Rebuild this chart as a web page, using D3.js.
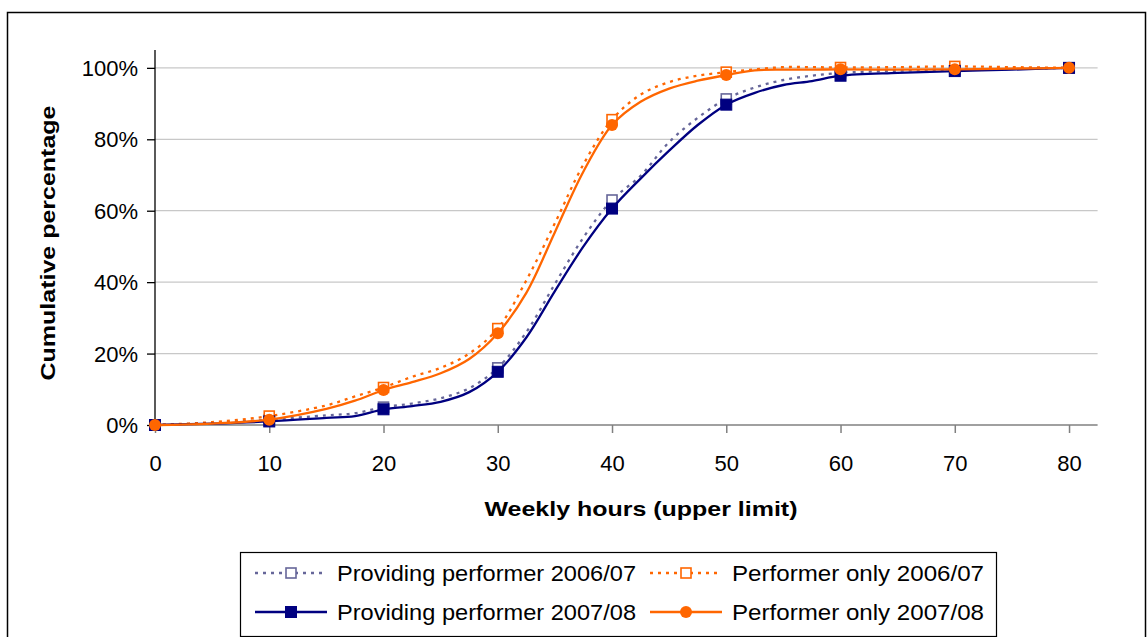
<!DOCTYPE html>
<html><head><meta charset="utf-8">
<script src="https://cdn.jsdelivr.net/npm/d3@7"></script>
<style>html,body{margin:0;padding:0;background:#fff;overflow:hidden}svg{display:block;font-family:"Liberation Sans",Arial,sans-serif}</style>
</head><body>
<svg id="c" width="1148" height="637"></svg>
<script>
const hours = [0,5,10,15,17.5,20,22.5,25,27.5,30,32.5,35,37.5,40,42.5,45,47.5,50,52.5,55,57.5,60,65,70,75,80];
const prov0607 = [0,0.6,1.5,2.7,3.3,5.0,6.0,7.5,10.3,16.0,26,39.5,52.5,63,69.8,79.2,86,91.3,94.5,96.6,97.8,98.6,99.2,99.5,99.7,100];
const perf0607 = [0,0.8,2.5,5.5,8,10.5,13.5,16,20,27,40.5,56.5,73,85.5,92.5,96,97.8,98.8,99.6,100.2,100.2,100.1,100.2,100.4,100.2,100];
const prov0708 = [0,0.4,1.0,2.0,2.5,4.4,5.3,6.5,9.2,14.9,24.5,37.5,50,60.6,69,76.8,84,89.7,93,95.2,96.3,97.8,98.6,99.1,99.5,100];
const perf0708 = [0,0.4,1.5,4.5,6.8,9.8,12,14.5,18.5,25.7,37,54,71,84,90.5,94.2,96.4,98,99.3,99.5,99.5,99.6,99.5,99.6,99.8,100];
const xTicks = [0,10,20,30,40,50,60,70,80];
const yTicks = [0,0.2,0.4,0.6,0.8,1.0];
const seriesNames = ["Providing performer 2006/07","Performer only 2006/07","Providing performer 2007/08","Performer only 2007/08"];

const series = [
  {name:seriesNames[0], vals:prov0607, color:"#666699", dash:"3,5", marker:"open", mcolor:"#666699"},
  {name:seriesNames[1], vals:perf0607, color:"#FF6600", dash:"3,5", marker:"open", mcolor:"#FF6600"},
  {name:seriesNames[2], vals:prov0708, color:"#000080", dash:null, marker:"square", mcolor:"#000080"},
  {name:seriesNames[3], vals:perf0708, color:"#FF6600", dash:null, marker:"circle", mcolor:"#FF6600"}
];
const legendWidths = [299,252,299,252];

const svg = d3.select("#c");
svg.append("rect").attr("x",7.5).attr("y",12.5).attr("width",1138).attr("height",640)
  .attr("fill","none").attr("stroke","#000").attr("stroke-width",1.5);

const x = d3.scaleLinear().domain([0,82.5]).range([155,1097.6]);
const y = d3.scaleLinear().domain([0,1.05]).range([425,50]);

svg.append("g").selectAll("line").data(yTicks.filter(d=>d>0)).join("line")
  .attr("x1",155).attr("x2",1097.6).attr("y1",d=>y(d)).attr("y2",d=>y(d))
  .attr("stroke","#C8C8C8").attr("stroke-width",1.2);

const yAxis = svg.append("g").attr("transform","translate(155,0)")
  .call(d3.axisLeft(y).tickValues(yTicks).tickFormat(d3.format(".0%")).tickSize(8).tickPadding(9));
yAxis.select(".domain").attr("d","M0,50V425").attr("stroke","#000").attr("stroke-width",1.3);
yAxis.selectAll(".tick line").attr("stroke","#000").attr("stroke-width",1.3);
yAxis.selectAll("text").attr("font-size",22).attr("fill","#000").attr("font-family","Liberation Sans, Arial, sans-serif").attr("dy","0.35em");

const xAxis = svg.append("g").attr("transform","translate(0,425)")
  .call(d3.axisBottom(x).tickValues(xTicks).tickFormat(d3.format("d")).tickSize(8).tickPadding(30));
xAxis.select(".domain").attr("d","M155,0H1097.6").attr("stroke","#808080").attr("stroke-width",1.5);
xAxis.selectAll(".tick line").attr("stroke","#808080").attr("stroke-width",1.5);
xAxis.selectAll("text").attr("font-size",22).attr("fill","#000").attr("font-family","Liberation Sans, Arial, sans-serif").attr("dy","0.35em");

svg.append("text").attr("transform","translate(55,243) rotate(-90)").attr("text-anchor","middle")
  .attr("font-size",21).attr("font-weight","bold")
  .attr("textLength",275).attr("lengthAdjust","spacingAndGlyphs").text("Cumulative percentage");
svg.append("text").attr("x",641).attr("y",516).attr("text-anchor","middle")
  .attr("font-size",21).attr("font-weight","bold")
  .attr("textLength",313).attr("lengthAdjust","spacingAndGlyphs").text("Weekly hours (upper limit)");

const line = d3.line().x(d=>x(d[0])).y(d=>y(d[1]/100)).curve(d3.curveCatmullRom.alpha(0.5));

function drawMarker(g, s, cx, cy){
  if(s.marker==="open"){
    g.append("rect").attr("x",cx-5).attr("y",cy-5).attr("width",10).attr("height",10)
      .attr("fill","#fff").attr("stroke",s.mcolor).attr("stroke-width",1.6);
  } else if(s.marker==="square"){
    g.append("rect").attr("x",cx-5.5).attr("y",cy-5.5).attr("width",11).attr("height",11)
      .attr("fill",s.mcolor).attr("stroke",s.mcolor).attr("stroke-width",1);
  } else {
    g.append("circle").attr("cx",cx).attr("cy",cy).attr("r",6).attr("fill",s.mcolor);
  }
}

const plot = svg.append("g");
series.forEach(s=>{
  const pts = hours.map((h,i)=>[h,s.vals[i]]);
  const g = plot.append("g");
  g.append("path").attr("d",line(pts)).attr("fill","none").attr("stroke",s.color)
    .attr("stroke-width",2.3).attr("stroke-dasharray",s.dash);
  pts.filter(p=>p[0]%10===0).forEach(p=>drawMarker(g,s,x(p[0]),y(p[1]/100)));
});

const lg = svg.append("g");
lg.append("rect").attr("x",240.5).attr("y",552.5).attr("width",756).attr("height",84)
  .attr("fill","#fff").attr("stroke","#000").attr("stroke-width",1.2);
const legPos = [[255,573],[650,573],[255,612],[650,612]];
series.forEach((s,i)=>{
  const [lx,ly] = legPos[i];
  const g = lg.append("g");
  g.append("line").attr("x1",lx).attr("x2",lx+72).attr("y1",ly).attr("y2",ly)
    .attr("stroke",s.color).attr("stroke-width",2.3).attr("stroke-dasharray",s.dash);
  drawMarker(g,s,lx+36,ly);
  g.append("text").attr("x",lx+82).attr("y",ly).attr("dy","0.35em").attr("font-size",22)
    .attr("textLength",legendWidths[i]).attr("lengthAdjust","spacingAndGlyphs").text(s.name);
});
</script>
</body></html>
